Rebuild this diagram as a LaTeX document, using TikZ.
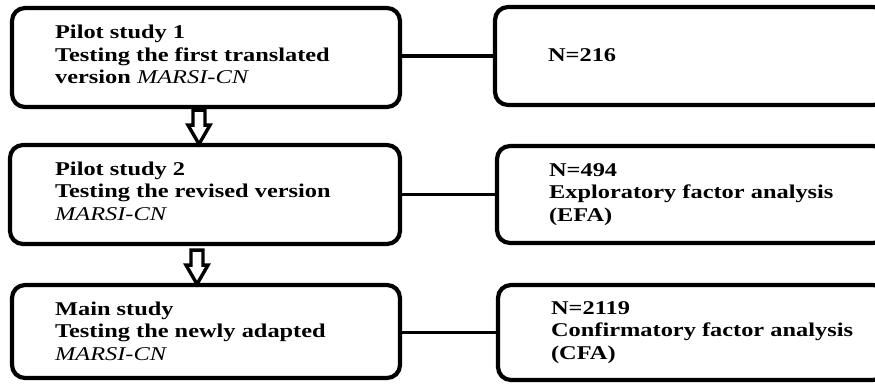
\documentclass[tikz,border=0pt]{standalone}
\usepackage{fontspec}
\setmainfont{Liberation Serif}[FakeStretch=1.25]
\usetikzlibrary{calc}
\begin{document}
\begin{tikzpicture}[x=1pt,y=-1pt,
  box/.style={draw=black,line width=4.2pt,rounded corners=13pt,inner sep=0pt},
  txt/.style={font=\fontsize{19.5}{22.5}\selectfont\bfseries,align=left,inner sep=0pt,anchor=west},
  link/.style={draw=black,line width=3.5pt},
  blockarrow/.style={draw=black,fill=white,line width=3.4pt,line join=miter}]
\useasboundingbox (0,0) rectangle (875,383);
\clip (0,0) rectangle (875,383);
% left boxes
\node[box,minimum width=388pt,minimum height=99pt] (l1) at (206,57.5) {};
\node[box,minimum width=390pt,minimum height=99pt] (l2) at (205,194.5) {};
\node[box,minimum width=388pt,minimum height=93pt] (l3) at (206,331.5) {};
% right boxes
\node[box,minimum width=391pt,minimum height=98pt] (r1) at (690.5,56) {};
\node[box,minimum width=389pt,minimum height=97pt] (r2) at (691.5,194.5) {};
\node[box,minimum width=388pt,minimum height=95pt] (r3) at (692,332.5) {};
% texts
\node[txt] (t1) at ([xshift=45pt,yshift=3pt]l1.west) {Pilot study 1\\Testing the first translated\\version {\mdseries\itshape MARSI-CN}};
\node[txt] (t2) at ([xshift=47pt,yshift=3.5pt]l2.west) {Pilot study 2\\Testing the revised version\\{\mdseries\itshape MARSI-CN}};
\node[txt] (t3) at ([xshift=45pt,yshift=0.5pt]l3.west) {Main study\\Testing the newly adapted\\{\mdseries\itshape MARSI-CN}};
\node[txt] (u1) at ([xshift=55pt,yshift=1pt]r1.west) {N=216};
\node[txt] (u2) at ([xshift=54pt,yshift=0pt]r2.west) {N=494\\Exploratory factor analysis\\(EFA)};
\node[txt] (u3) at ([xshift=55pt,yshift=0pt]r3.west) {N=2119\\Confirmatory factor analysis\\(CFA)};
% connectors
\draw[link] (l1.east |- r1.west) -- (r1.west);
\draw[link] (l2.east |- r2.west) -- (r2.west);
\draw[link] (l3.east |- r3.west) -- (r3.west);
% block arrows
\coordinate (a1) at ($(l1.south)+(-7,0)$);
\coordinate (a2) at ($(l2.south)+(-8,0)$);
\draw[blockarrow] ($(a1)+(-6,1)$) -- ($(a1)+(6,1)$) -- ($(a1)+(6,16)$) -- ($(a1)+(11,16)$)
  -- ($(a1)+(0,35)$) -- ($(a1)+(-11,16)$) -- ($(a1)+(-6,16)$) -- cycle;
\draw[blockarrow] ($(a2)+(-6,4)$) -- ($(a2)+(6,4)$) -- ($(a2)+(6,19)$) -- ($(a2)+(11,19)$)
  -- ($(a2)+(0,38)$) -- ($(a2)+(-11,19)$) -- ($(a2)+(-6,19)$) -- cycle;
\end{tikzpicture}
\end{document}
